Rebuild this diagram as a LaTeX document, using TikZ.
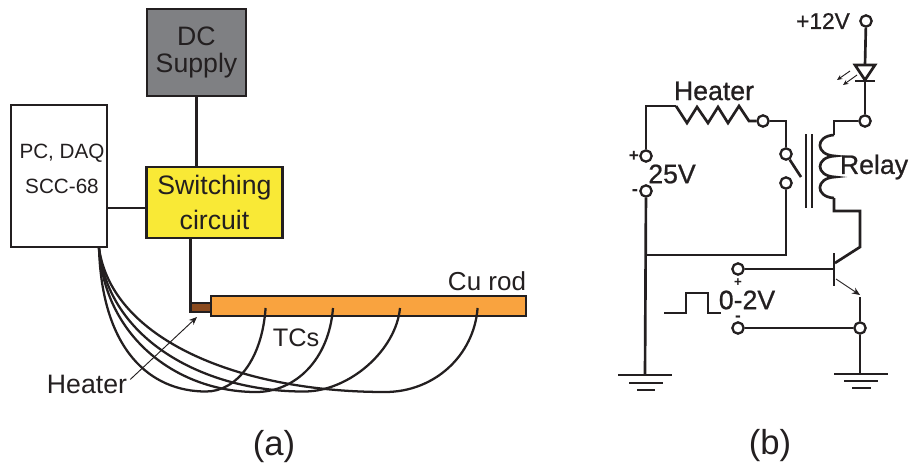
\documentclass[tikz,border=0pt]{standalone}
\usepackage{fontspec}
\setmainfont{Liberation Sans}
\usetikzlibrary{arrows.meta,calc}
\newcommand{\fsz}[1]{\fontsize{#1}{#1}\selectfont}
\newcommand{\semib}{\addfontfeature{FakeBold=0.8}}
\definecolor{dcgray}{HTML}{7F8083}
\definecolor{swyellow}{HTML}{F9E936}
\definecolor{rodorange}{HTML}{F9A33F}
\definecolor{heatbrown}{HTML}{8B4A1E}
\definecolor{inkc}{HTML}{231F20}
\tikzset{
  x=0.75pt,y=-0.75pt,
  every node/.style={text=inkc},
  blockbox/.style={draw=inkc,line width=1.8pt,inner sep=0pt,align=center},
  wirea/.style={draw=inkc,line width=1.7pt},
  tcwire/.style={draw=inkc,line width=1.7pt},
  wire/.style={draw=inkc,line width=2pt,line join=miter},
  thinw/.style={draw=inkc,line width=0.7pt},
  term/.style={circle,draw=inkc,fill=white,line width=1.7pt,minimum size=8.5pt,inner sep=0pt},
  txt/.style={inner sep=0pt,align=center},
  gnd/.style={draw=inkc,line width=2.2pt},
}
\begin{document}
\begin{tikzpicture}
\useasboundingbox (0,0) rectangle (910,465);
% ---------- part (a)
\node[blockbox,fill=dcgray,minimum width=74pt,minimum height=65pt] (dc) at (196.5,52.5) {\fsz{20}DC\\[4.75pt]\fsz{20}Supply};
\node[blockbox,fill=white,minimum width=72pt,minimum height=106.5pt] (pc) at (59,176) {};
\node[txt] (pctext) at (62,169) {\fsz{15.5}PC, DAQ\\[12pt]\fsz{15.5}SCC-68};
\node[blockbox,fill=swyellow,minimum width=102pt,minimum height=53pt] (sw) at (214.5,202.5) {\fsz{20}Switching\\[6pt]\fsz{20}circuit};
\node[blockbox,fill=heatbrown,minimum width=15pt,minimum height=6.5pt] (heat) at (201,307.5) {};
\node[blockbox,fill=rodorange,minimum width=236pt,minimum height=15pt] (rod) at (368.5,306) {};
\node[txt] (curod) at (487,281) {\fsz{19.5}Cu rod};
\node[txt] (tcs) at (296,338) {\fsz{19}TCs};
\node[txt] (heatlab) at (87,384) {\fsz{20}Heater};
\node[txt] (laba) at (274,447) {\fsz{26}(a)};
\coordinate (swl) at (146,208);
\coordinate (swb) at (190.5,238);
\coordinate (pcb) at (99,248);
\coordinate (tc1) at (265.6,308);
\coordinate (tc2) at (333,308);
\coordinate (tc3) at (400,308);
\coordinate (tc4) at (477.6,308);
\draw[wirea] (dc.south) -- (dc.south |- sw.north);
\draw[wirea] (swl) -- (swl -| pc.east);
\draw[wirea] (swb) -- (swb |- heat.south);
\draw[tcwire] (tc1) .. controls (262,360) and (236,391.5) .. (206,391.5) .. controls (150,391.5) and (102,350) .. (pcb);
\draw[tcwire] (tc2) .. controls (329,360) and (295,392) .. (256,392) .. controls (180,392) and (105,340) .. (pcb);
\draw[tcwire] (tc3) .. controls (396,350) and (350,391) .. (305,391.5) .. controls (205,392) and (108,340) .. (pcb);
\draw[tcwire] (tc4) .. controls (474,355) and (435,392) .. (385,392) .. controls (240,392) and (112,340) .. (pcb);
\draw[thinw,-{Stealth[length=6pt,width=5pt]}] (heatlab.north east)++(3,5) -- (197,317);
% ---------- part (b)
\node[term] (t12) at (866,21) {};
\node[term] (tled) at (865,121) {};
\node[term] (thr) at (763,121) {};
\node[term] (tsw1) at (786,154) {};
\node[term] (tsw2) at (786,183) {};
\node[term] (tp) at (646,156) {};
\node[term] (tm) at (646,191) {};
\node[term] (tb) at (738,269) {};
\node[term] (te) at (738,328) {};
\node[term] (tj) at (860,328) {};
\coordinate (ledtop) at (865,65);
\coordinate (ledbar) at (865,81);
\coordinate (hl) at (676,106);
\coordinate (coilt) at (834,135);
\coordinate (coilb) at (834,198);
\coordinate (bbar) at (834,269);
\coordinate (j) at (645,255);
\coordinate (gl) at (645,375);
\coordinate (gr) at (860,374);
\coordinate (emit) at (860,297);
\draw[wire] (t12) -- (ledtop);
\draw[wire] (ledbar) -- (tled);
\draw[wire,fill=white] (855,65) -- (875,65) -- (865,80) -- cycle;
\draw[wire] (855,81) -- (875,81);
\draw[thinw,-{Stealth[length=4pt,width=3.5pt]}] (850,71) -- (837,80);
\draw[thinw,-{Stealth[length=4pt,width=3.5pt]}] (857,75) -- (843,85);
\draw[wire] (tled) -| (coilt);
\draw[wire] (coilt) .. controls (815,136) and (815,155) .. (835,156)
  .. controls (815,157) and (815,176) .. (835,177)
  .. controls (815,178) and (815,197) .. (coilb);
\draw[wire] (coilb) -- (834,211) -- (860,211) -- (860,247) -- (835,263);
\draw[wire] (806,134) -- (806,208);
\draw[wire] (812,134) -- (812,208);
\draw[wire] (bbar |- 0,253) -- (bbar |- 0,286);
\draw[wire] (tb) -- (bbar);
\draw[thinw,-{Stealth[length=6pt,width=5pt]}] (836,279) -- (860,295);
\draw[wire] (emit) -- (tj);
\draw[wire] (te) -- (tj);
\draw[wire] (tj) -- (gr);
\draw[gnd] (834,374) -- (888,374);
\draw[gnd] (844,381) -- (878,381);
\draw[gnd] (852,388) -- (871,388);
\draw[wire] (tm) -- (gl);
\draw[gnd] (618,375) -- (672,375);
\draw[gnd] (629,383) -- (663,383);
\draw[gnd] (637,390) -- (655,390);
\draw[wire] (tp) |- (hl);
\draw[wire] (hl) -- (687,123) -- (697,107) -- (708,123) -- (718,107) -- (728,123) -- (739,106) -- (749,121) -- (thr);
\draw[wire] (thr) -| (tsw1);
\draw[wire] (tsw1) -- (801,177);
\draw[wire] (tsw2) |- (j);
\draw[thinw,line width=0.9pt] (664,313) -- (686,313) -- (686,293) -- (708,293) -- (708,313) -- (721,313);
\node[txt] (l12) at (823,21) {\fsz{17}\semib +12V};
\node[txt] (lheat) at (714,91) {\fsz{20}\semib Heater};
\node[txt] (l25) at (672,174) {\fsz{20}\semib 25V};
\node[txt] (lrel) at (874,167) {\fsz{20}\semib Relay};
\node[txt,font=\bfseries] (lp) at (634,156) {\fsz{13}+};
\node[txt,font=\bfseries] (lm) at (635,193) {\fsz{14}-};
\node[txt] (l02) at (747,300) {\fsz{20}\semib 0-2V};
\node[txt,font=\bfseries] (lp2) at (738,283) {\fsz{10}+};
\node[txt,font=\bfseries] (lm2) at (738,319) {\fsz{13}-};
\node[txt] (labb) at (770,446) {\fsz{26}(b)};
\end{tikzpicture}
\end{document}
